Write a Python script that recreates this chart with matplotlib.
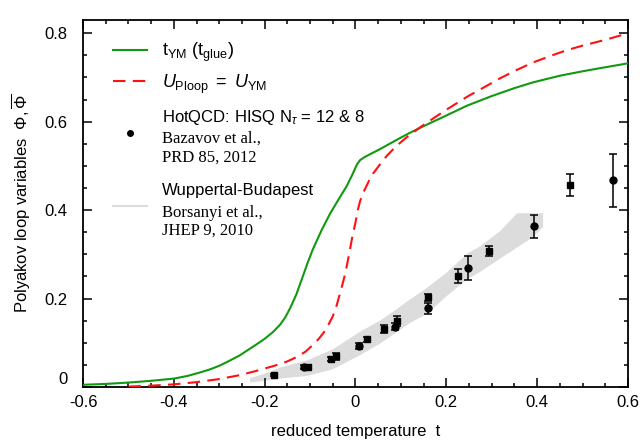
import matplotlib
matplotlib.use("Agg")
import matplotlib.pyplot as plt
import numpy as np

plt.rcParams["font.family"] = "Liberation Sans"
plt.rcParams["font.size"] = 12
plt.rcParams["axes.unicode_minus"] = False
plt.rcParams["mathtext.fontset"] = "custom"
plt.rcParams["mathtext.rm"] = "Liberation Sans"
plt.rcParams["mathtext.it"] = "Liberation Sans:italic"
plt.rcParams["mathtext.bf"] = "Liberation Sans:bold"

# t_YM (t_glue) curve
t_ym = [-0.60, -0.55, -0.50, -0.45, -0.40, -0.37, -0.342, -0.32, -0.30, -0.28,
        -0.254, -0.235, -0.22, -0.20, -0.182, -0.166, -0.155, -0.144, -0.13, -0.116,
        -0.105, -0.094, -0.075, -0.056, -0.038, -0.019, -0.008, 0.003, 0.010, 0.020,
        0.035, 0.054, 0.075, 0.098, 0.12, 0.146, 0.175, 0.20, 0.245, 0.30,
        0.35, 0.391, 0.45, 0.50, 0.538, 0.60]
phi_ym = [0.005, 0.007, 0.010, 0.014, 0.019, 0.025, 0.033, 0.040, 0.048, 0.058,
          0.072, 0.085, 0.095, 0.109, 0.124, 0.141, 0.157, 0.178, 0.210, 0.250,
          0.282, 0.311, 0.354, 0.392, 0.423, 0.455, 0.478, 0.503, 0.513, 0.520,
          0.528, 0.538, 0.550, 0.563, 0.575, 0.588, 0.602, 0.614, 0.636, 0.658,
          0.676, 0.689, 0.704, 0.714, 0.721, 0.732]

# U_Ploop = U_YM curve
t_up = [-0.50, -0.45, -0.40, -0.35, -0.30, -0.254, -0.22, -0.182, -0.166, -0.15,
        -0.129, -0.11, -0.094, -0.08, -0.065, -0.05, -0.042, -0.034, -0.028, -0.023,
        -0.017, -0.012, -0.006, 0.000, 0.005, 0.010, 0.016, 0.022, 0.030, 0.039,
        0.055, 0.07, 0.09, 0.113, 0.146, 0.175, 0.20, 0.245, 0.28, 0.318,
        0.355, 0.391, 0.43, 0.466, 0.50, 0.538, 0.57, 0.60]
phi_up = [0.001, 0.003, 0.006, 0.011, 0.018, 0.027, 0.036, 0.047, 0.052, 0.058,
          0.068, 0.080, 0.095, 0.110, 0.130, 0.160, 0.183, 0.212, 0.235, 0.255,
          0.285, 0.312, 0.345, 0.372, 0.400, 0.420, 0.437, 0.450, 0.467, 0.483,
          0.505, 0.524, 0.545, 0.565, 0.590, 0.610, 0.627, 0.656, 0.676, 0.698,
          0.717, 0.734, 0.749, 0.762, 0.772, 0.782, 0.791, 0.800]

# HotQCD HISQ, Ntau = 8 (squares) and 12 (circles)
sq_t = [-0.180, -0.105, -0.054, -0.043, 0.025, 0.063, 0.091, 0.160, 0.226, 0.294, 0.472]
sq_phi = [0.027, 0.045, 0.063, 0.070, 0.108, 0.131, 0.149, 0.203, 0.251, 0.307, 0.456]
sq_err = [0.003, 0.004, 0.004, 0.008, 0.006, 0.010, 0.011, 0.008, 0.015, 0.011, 0.025]
ci_t = [-0.113, 0.008, 0.087, 0.160, 0.248, 0.393, 0.567]
ci_phi = [0.045, 0.093, 0.136, 0.178, 0.269, 0.364, 0.468]
ci_err = [0.004, 0.006, 0.008, 0.012, 0.027, 0.026, 0.060]

# Wuppertal-Budapest band
wb_up_t = [-0.232, -0.20, -0.166, -0.107, -0.05, 0.010, 0.054, 0.0825, 0.120, 0.157,
           0.200, 0.248, 0.274, 0.318, 0.356, 0.413]
wb_up = [0.020, 0.030, 0.044, 0.060, 0.085, 0.125, 0.150, 0.170, 0.198, 0.224,
         0.258, 0.303, 0.318, 0.352, 0.393, 0.393]
wb_lo_t = [-0.232, -0.20, -0.166, -0.107, -0.05, 0.010, 0.054, 0.0825, 0.120, 0.157,
           0.200, 0.248, 0.274, 0.318, 0.391, 0.413]
wb_lo = [0.010, 0.014, 0.019, 0.025, 0.040, 0.072, 0.098, 0.118, 0.145, 0.165,
         0.205, 0.245, 0.260, 0.290, 0.339, 0.362]

xticks = [-0.6, -0.4, -0.2, 0.0, 0.2, 0.4, 0.6]
xticklabels = ["-0.6", "-0.4", "-0.2", "0", "0.2", "0.4", "0.6"]
yticks = [0.0, 0.2, 0.4, 0.6, 0.8]
yticklabels = ["0", "0.2", "0.4", "0.6", "0.8"]

fig = plt.figure(figsize=(6.44, 4.45), dpi=100)
ax = fig.add_axes([83/644, 1 - 387/445, 545/644, 367/445])

band_color = "#dcdcdc"
ax.fill(wb_up_t + wb_lo_t[::-1], wb_up + wb_lo[::-1], color=band_color, lw=0, zorder=1)

ax.plot(t_ym, phi_ym, color="#119911", lw=1.5, zorder=3)
ax.plot(t_up, phi_up, color="#ff1111", lw=1.5, ls=(0, (6, 3.5)), zorder=3)

ax.errorbar(sq_t, sq_phi, yerr=sq_err, fmt="s", color="k", ms=4.5,
            elinewidth=1.1, capsize=3, capthick=1.1, zorder=4)
ax.errorbar(ci_t, ci_phi, yerr=ci_err, fmt="o", color="k", ms=5,
            elinewidth=1.1, capsize=3, capthick=1.1, zorder=4)

ax.set_xlim(-0.6, 0.6)
ax.set_ylim(0, 0.83)
ax.set_xticks(xticks)
ax.set_xticklabels(xticklabels)
ax.set_yticks(yticks)
ax.set_yticklabels(yticklabels)
ax.set_xticks(np.arange(-0.6, 0.601, 0.05), minor=True)
ax.set_yticks(np.arange(0, 0.83, 0.05), minor=True)
ax.tick_params(which="both", direction="in", top=True, right=True, width=1.1, labelsize=12)
ax.tick_params(which="major", length=6.5)
ax.tick_params(which="minor", length=3)
ax.tick_params(axis="x", pad=6)
ax.tick_params(axis="y", pad=11)
ax.get_yticklabels()[0].set_va("bottom")
for s in ax.spines.values():
    s.set_linewidth(1.3)

ax.set_xlabel("reduced temperature  t", fontsize=12, labelpad=10)
ax.set_ylabel(r"Polyakov loop variables  $\Phi,\overline{\Phi}$", fontsize=12, labelpad=8)

# legend drawn by hand (mixed fonts in labels)
tr = ax.transAxes
hx = [0.055, 0.117]
tx = 0.145
ax.plot(hx, [0.918, 0.918], color="#119911", lw=1.5, transform=tr, clip_on=False)
ax.text(tx, 0.902, r"t$_{\mathrm{YM}}$ (t$_{\mathrm{glue}}$)", transform=tr, fontsize=13, va="baseline")
ax.plot(hx, [0.834, 0.834], color="#ff1111", lw=1.5, ls=(0, (6, 3.5)), transform=tr, clip_on=False)
ax.text(tx, 0.814, r"$U_{\mathrm{Ploop}}\ =\ U_{\mathrm{YM}}$", transform=tr, fontsize=13, va="baseline")
ax.plot([0.086], [0.692], "o", color="k", ms=4, transform=tr, clip_on=False)
ax.text(tx, 0.723, r"HotQCD: HISQ N$_{\tau}$ = 12 & 8", transform=tr, fontsize=12, va="baseline")
ax.text(tx, 0.666, "Bazavov et al.,", transform=tr, fontsize=12, va="baseline", family="Liberation Serif")
ax.text(tx, 0.614, "PRD 85, 2012", transform=tr, fontsize=12, va="baseline", family="Liberation Serif")
ax.plot(hx, [0.493, 0.493], color=band_color, lw=1.5, transform=tr, clip_on=False)
ax.text(tx, 0.523, "Wuppertal-Budapest", transform=tr, fontsize=12, va="baseline")
ax.text(tx, 0.464, "Borsanyi et al.,", transform=tr, fontsize=12, va="baseline", family="Liberation Serif")
ax.text(tx, 0.414, "JHEP 9, 2010", transform=tr, fontsize=12, va="baseline", family="Liberation Serif")

fig.savefig("out.png", dpi=100)
